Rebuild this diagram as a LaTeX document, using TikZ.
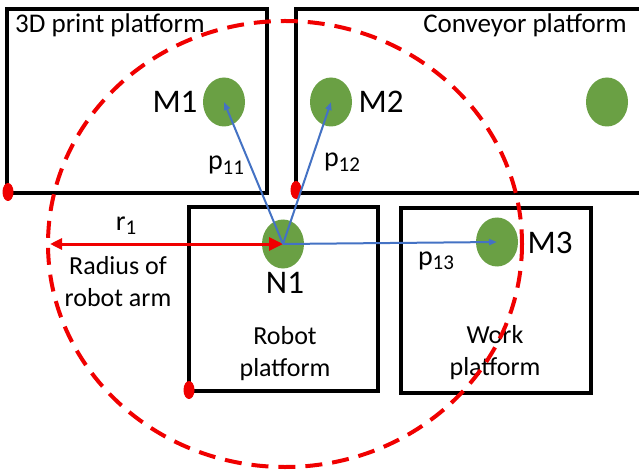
\documentclass[tikz,border=0pt]{standalone}
\usepackage{fontspec}
\setmainfont{Carlito}
\usetikzlibrary{arrows.meta,shapes.geometric}
\definecolor{dotgreen}{RGB}{106,160,68}
\definecolor{armblue}{RGB}{68,114,196}
\definecolor{reachred}{RGB}{240,0,0}
\newcommand{\subidx}[1]{\raisebox{-0.35ex}{\fontsize{21}{21}\selectfont #1}}
\begin{document}
\begin{tikzpicture}[x=1pt,y=-1pt,
  platform/.style={draw=black,line width=3.5pt},
  joint/.style={ellipse,fill=dotgreen,minimum width=42pt,minimum height=49pt,inner sep=0pt},
  corner/.style={ellipse,fill=reachred,minimum width=11pt,minimum height=18pt,inner sep=0pt},
  headtext/.style={font=\fontsize{27}{32}\selectfont,inner sep=0pt},
  bodytext/.style={font=\fontsize{26}{32}\selectfont,align=center,inner sep=0pt},
  labeltext/.style={font=\fontsize{33}{36}\selectfont,inner sep=0pt},
  ptext/.style={font=\fontsize{28}{32}\selectfont,inner sep=0pt},
  reach/.style={draw=reachred,line width=4pt,dash pattern=on 17pt off 10pt},
  radiusarrow/.style={draw=reachred,line width=3pt,{Triangle[length=12pt,width=11pt]}-{Triangle[length=14pt,width=13pt]}},
  armarrow/.style={draw=armblue,line width=2pt,-{Triangle[length=8pt,width=6pt]}}
]
\useasboundingbox (0,0) rectangle (639,470);
\clip (0,0) rectangle (639,470);
\fill[white] (0,0) rectangle (639,470);
% platforms
\draw[platform] (7,9) rectangle (267,193);
\draw[platform] (296,9) rectangle (680,193);
\draw[platform] (189,207) rectangle (378,391);
\draw[platform] (401,208) rectangle (591,393);
% platform titles
\node[headtext,anchor=base west] (t3d) at (15,33) {3D print platform};
\node[headtext,anchor=base east] (tconv) at (627,33) {Conveyor platform};
\node[bodytext] (trobot) at (285,354) {Robot\\platform};
\node[bodytext] (twork) at (495,353) {Work\\platform};
\node[bodytext] (tradius) at (118,282) {Radius of\\robot arm};
% corner markers
\node[corner] (c1) at (8,192) {};
\node[corner] (c2) at (296,190) {};
\node[corner] (c3) at (189,390) {};
% positions
\node[joint] (M1) at (224,102) {};
\node[joint] (M2) at (331,102) {};
\node[joint] (M4) at (607,102) {};
\node[joint] (N1) at (283,244) {};
\node[joint] (M3) at (497,242) {};
\node[labeltext] (lM1) at (175,102) {M1};
\node[labeltext] (lM2) at (381,102) {M2};
\node[labeltext] (lM3) at (550,243) {M3};
\node[labeltext] (lN1) at (285,283) {N1};
% reach circle
\coordinate (rc) at (285,244);
\draw[reach] (rc) ellipse [x radius=237, y radius=223];
% radius arrow
\coordinate (rleft) at (50,244);
\draw[radiusarrow] (rleft) -- (N1.center);
\node[ptext,anchor=base] (r1) at (126,230) {r\subidx{1}};
% arm vectors
\draw[armarrow] (N1.center) -- (M1.center);
\draw[armarrow] (N1.center) -- (M2.center);
\draw[armarrow] (N1.center) -- (M3.center);
\node[ptext,anchor=base] (p11) at (226,170) {p\subidx{11}};
\node[ptext,anchor=base] (p12) at (342,167) {p\subidx{12}};
\node[ptext,anchor=base] (p13) at (436,265) {p\subidx{13}};
\end{tikzpicture}
\end{document}
